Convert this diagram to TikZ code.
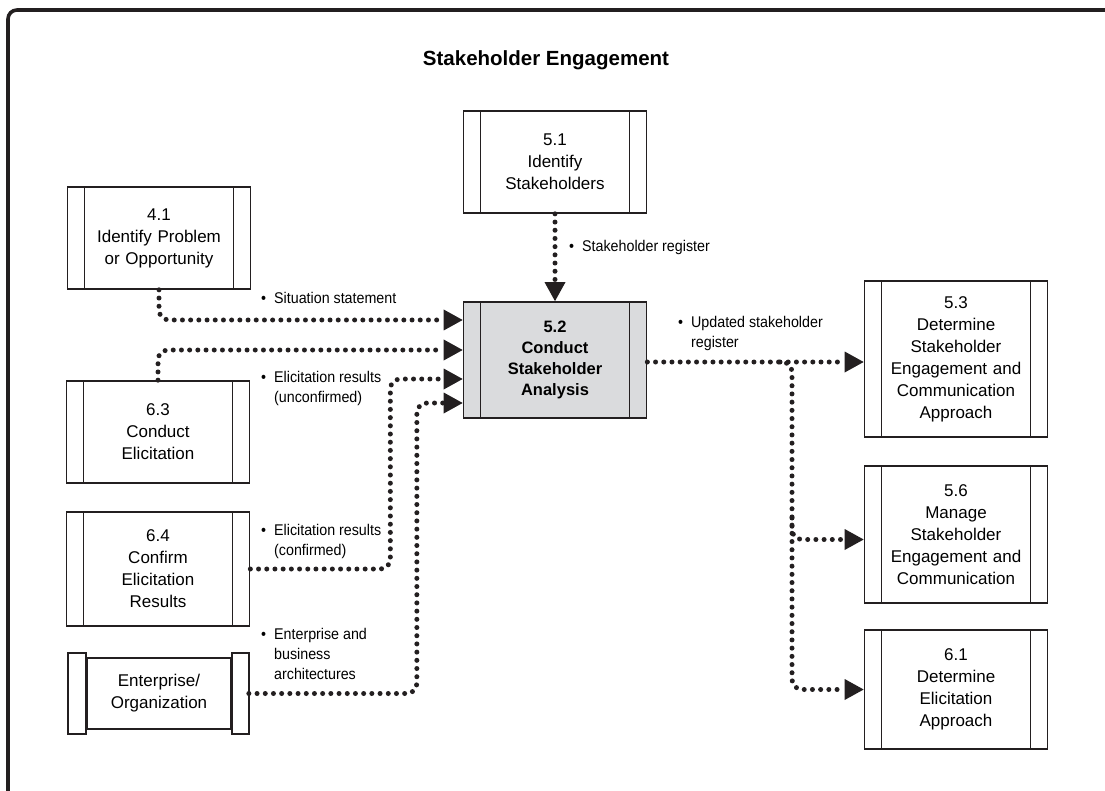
\documentclass[tikz,border=0pt]{standalone}
\usepackage{fontspec}
\setmainfont{Liberation Sans}
\newfontfamily\notefont[FakeStretch=0.92]{Liberation Sans}
\usepackage{tikz}
\usetikzlibrary{calc,arrows.meta}
\definecolor{InkBlack}{HTML}{231F20}
\definecolor{FocusGray}{HTML}{DADBDD}

\newcommand{\notetext}[1]{\begin{tabular}[t]{@{}l@{\hspace{8pt}}l@{}}\textbullet & #1\end{tabular}}

\tikzset{
  taskbox/.style={
    draw=InkBlack,
    line width=1.7pt,
    fill=white,
    minimum width=183pt,
    minimum height=#1,
    inner sep=0pt,
    text width=150pt,
    align=center,
    font=\fontsize{17}{22}\selectfont,
    path picture={
      \draw[InkBlack, line width=1.7pt]
        ([xshift=17pt]path picture bounding box.north west) -- ([xshift=17pt]path picture bounding box.south west)
        ([xshift=-17pt]path picture bounding box.north east) -- ([xshift=-17pt]path picture bounding box.south east);
    }
  },
  scrollbox/.style={
    draw=InkBlack,
    line width=1.7pt,
    minimum width=144pt,
    minimum height=71pt,
    inner sep=0pt,
    align=center,
    font=\fontsize{17}{22}\selectfont
  },
  note/.style={
    anchor=base west,
    inner sep=0pt,
    font=\notefont\fontsize{15.5}{20}\selectfont
  },
  flow/.style={
    draw=InkBlack,
    line width=5pt,
    line cap=round,
    dash pattern=on 0pt off 8.2pt,
    rounded corners=10pt,
    -{Triangle[length=19pt,width=21pt,line width=0pt]}
  }
}

\begin{document}
\begin{tikzpicture}[x=1pt, y=-1pt]
  \useasboundingbox (0,0) rectangle (1105,791);
  \fill[white] (0,0) rectangle (1105,791);
  \draw[InkBlack, line width=3.6pt, rounded corners=9pt] (8,10) rectangle (1130,820);

  \node[font=\bfseries\fontsize{20.5}{24}\selectfont] (title) at (546,60) {Stakeholder Engagement};

  \node[taskbox=102pt] (p41) at (159,238) {4.1\\Identify Problem\\or Opportunity};
  \node[taskbox=102pt] (p51) at (555,162) {5.1\\Identify\\Stakeholders};
  \node[
    taskbox=116pt,
    fill=FocusGray,
    font=\bfseries\fontsize{16.5}{21}\selectfont
  ] (p52) at (555,360) {5.2\\Conduct\\Stakeholder\\Analysis};
  \node[taskbox=102pt] (p63) at (158,432) {6.3\\Conduct\\Elicitation};
  \node[taskbox=114pt] (p64) at (158,569) {6.4\\Confirm\\Elicitation\\Results};
  \node[scrollbox] (org) at (159,693.5) {Enterprise/\\Organization};
  \draw[InkBlack, line width=1.7pt] ([yshift=4pt]org.north west) rectangle ([xshift=-18pt,yshift=-4pt]org.south west);
  \draw[InkBlack, line width=1.7pt] ([yshift=4pt]org.north east) rectangle ([xshift=17pt,yshift=-4pt]org.south east);

  \node[taskbox=156pt] (p53) at (956,359) {5.3\\Determine\\Stakeholder\\Engagement and\\Communication\\Approach};
  \node[taskbox=137pt] (p56) at (956,534.5) {5.6\\Manage\\Stakeholder\\Engagement and\\Communication};
  \node[taskbox=119pt] (p61) at (956,689.5) {6.1\\Determine\\Elicitation\\Approach};

  \node[note] (n51) at (569,252) {\notetext{Stakeholder register}};
  \node[note] (n41) at (261,304) {\notetext{Situation statement}};
  \node[note] (n63) at (261,382) {\notetext{Elicitation results\\ & (unconfirmed)}};
  \node[note] (n64) at (261,535) {\notetext{Elicitation results\\ & (confirmed)}};
  \node[note] (norg) at (261,639) {\notetext{Enterprise and\\ & business\\ & architectures}};
  \node[note] (n52) at (678,328) {\notetext{Updated stakeholder\\ & register}};

  \coordinate (fork) at (792,362);
  \coordinate (tap) at (792,518);

  \draw[flow] (p51.south) -- (p52.north);
  \draw[flow] (p41.south) |- ([yshift=40pt]p52.west);
  \draw[flow] (p63.north) |- ([yshift=10pt]p52.west);
  \draw[flow] (p64.east) -- ++(140,0) |- ([yshift=-19pt]p52.west);
  \draw[flow] ([xshift=17pt]org.east) -- ++(168,0) |- ([yshift=-43pt]p52.west);

  \draw[flow] ([yshift=-2pt]p52.east) -| (fork |- p61.west) -- (p61.west);
  \draw[flow] ([xshift=-12pt]fork) -- (fork -| p53.west);
  \draw[flow] (tap) |- ([yshift=-5pt]p56.west);
\end{tikzpicture}
\end{document}
